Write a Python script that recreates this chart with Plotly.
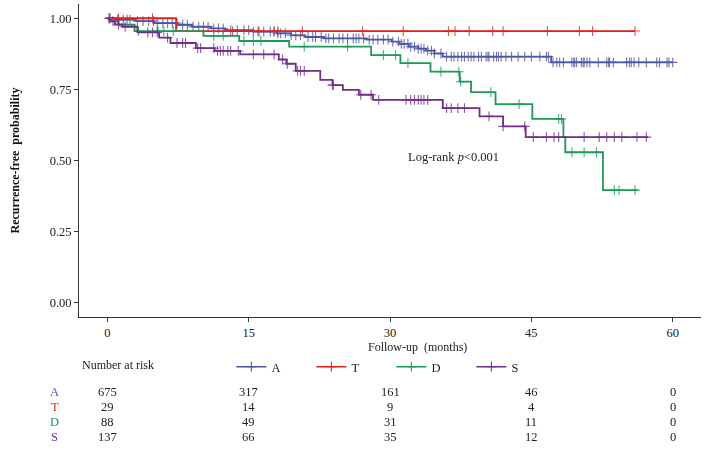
import numpy as np
import plotly.graph_objects as go

# ---------------- data ----------------
groups = ["A", "T", "D", "S"]
colors = {"A": "#4b55a5", "T": "#e3211c", "D": "#1d9a57", "S": "#722d8c"}

# Kaplan-Meier step points (event times, survival after event)
A_time = [0, 1.0, 3.0, 5.0, 7.5, 9.0, 11.0, 12.5, 15.5, 18.0, 19.5, 21.0, 23.0,
          27.5, 30.2, 31.0, 32.0, 33.0, 33.8, 34.7, 35.6, 47.1]
A_surv = [1.0, 0.995, 0.99, 0.983, 0.977, 0.970, 0.964, 0.958, 0.953, 0.947, 0.940,
          0.934, 0.929, 0.925, 0.918, 0.910, 0.900, 0.893, 0.886, 0.876, 0.865, 0.845]
A_end = 60.0

T_time = [0, 7.3]
T_surv = [1.0, 0.955]
T_end = 56.0

D_time = [0, 0.4, 1.2, 2.9, 10.2, 14.0, 19.3, 28.0, 31.1, 34.3, 37.4, 38.6, 41.2,
          45.1, 48.4, 48.6, 52.6]
D_surv = [1.0, 0.989, 0.977, 0.955, 0.938, 0.920, 0.900, 0.870, 0.842, 0.812, 0.777,
          0.740, 0.698, 0.646, 0.583, 0.529, 0.396]
D_end = 56.3

S_time = [0, 0.3, 0.8, 1.6, 3.2, 5.5, 6.7, 9.4, 11.4, 14.1, 18.2, 19.0, 20.0, 22.6,
          23.9, 25.0, 26.7, 28.2, 35.6, 39.5, 42.0, 44.4]
S_surv = [1.0, 0.99, 0.978, 0.97, 0.95, 0.932, 0.913, 0.895, 0.885, 0.873, 0.855,
          0.840, 0.815, 0.783, 0.765, 0.748, 0.731, 0.713, 0.684, 0.655, 0.620, 0.582]
S_end = 57.4

# censoring times
A_cens = [0.2, 0.3, 1.1, 1.7, 2.1, 2.4, 3.2, 3.8, 4.4, 4.9, 5.3, 5.9, 6.4, 6.9, 7.4,
          8.0, 8.5, 9.1, 9.7, 10.2, 10.7, 11.3, 11.8, 12.3, 13.1, 13.8, 14.5, 15.0,
          15.5, 16.1, 16.6, 17.3, 17.7, 18.1, 18.4, 18.9, 19.5, 20.0, 20.5, 21.3,
          21.8, 22.1, 22.7, 23.2, 23.5, 24.0, 24.6, 25.0, 25.5, 26.1, 26.4, 26.7,
          27.2, 27.8, 28.2, 28.7, 29.3, 29.8, 30.3, 30.9, 31.2, 31.5, 31.9, 32.2,
          32.6, 33.0, 33.3, 33.6, 34.0, 34.4, 34.7, 35.4, 36.0, 36.5, 36.8, 37.2,
          37.6, 37.9, 38.3, 38.6, 38.9, 39.4, 39.7, 40.2, 40.4, 40.5, 41.0, 41.3,
          41.5, 41.8, 42.3, 42.9, 43.6, 44.3, 45.0, 45.9, 46.6, 46.8, 47.3, 47.7,
          48.0, 48.4, 49.3, 49.5, 49.6, 49.8, 50.3, 50.5, 50.6, 50.9, 51.2, 52.1,
          53.0, 53.2, 53.3, 53.7, 55.1, 55.4, 55.6, 55.9, 56.4, 57.2, 58.3, 58.6,
          59.4, 59.6, 60.0]
T_cens = [0.2, 1.2, 4.8, 13.3, 16.0, 17.7, 18.1, 20.7, 27.1, 31.4, 36.2, 36.9, 38.4,
          40.9, 42.0, 46.7, 50.1, 51.5, 56.0]
D_cens = [3.3, 5.4, 6.0, 7.0, 11.3, 12.3, 14.5, 15.5, 16.3, 20.9, 25.5, 29.3, 30.6,
          31.9, 35.4, 37.3, 37.5, 40.7, 43.7, 47.9, 48.2, 49.3, 50.6, 51.9, 53.8,
          54.3, 56.0]
S_cens = [0.6, 1.2, 1.9, 4.3, 4.8, 5.3, 6.4, 7.4, 8.0, 8.3, 9.6, 9.9, 11.3, 11.7,
          12.0, 12.3, 12.8, 13.1, 13.9, 15.5, 16.6, 17.7, 18.6, 19.1, 20.2, 20.5,
          20.9, 23.9, 24.0, 26.9, 28.0, 28.8, 31.7, 32.2, 32.6, 33.0, 33.3, 33.6,
          34.0, 36.0, 36.5, 37.2, 37.9, 40.5, 42.0, 44.3, 45.2, 46.6, 47.4, 47.9,
          50.6, 52.2, 53.0, 53.8, 54.6, 56.2, 57.2]

# number at risk
risk_times = [0, 15, 30, 45, 60]
risk_A = [675, 317, 161, 46, 0]
risk_T = [29, 14, 9, 4, 0]
risk_D = [88, 49, 31, 11, 0]
risk_S = [137, 66, 35, 12, 0]

x_ticks = [0, 15, 30, 45, 60]
y_ticks = [0.0, 0.25, 0.50, 0.75, 1.00]
y_ticklabels = ["0.00", "0.25", "0.50", "0.75", "1.00"]

curves = {
    "A": (A_time, A_surv, A_end, A_cens, risk_A),
    "T": (T_time, T_surv, T_end, T_cens, risk_T),
    "D": (D_time, D_surv, D_end, D_cens, risk_D),
    "S": (S_time, S_surv, S_end, S_cens, risk_S),
}

FONT = "Liberation Serif"

# ---------------- figure ----------------
fig = go.Figure()

for g in groups:
    t, s, end, cens, _ = curves[g]
    c = colors[g]
    xs = list(t) + [end]
    ys = list(s) + [s[-1]]
    fig.add_trace(go.Scatter(x=xs, y=ys, mode="lines", line=dict(color=c, width=1.8, shape="hv"),
                             showlegend=False, hoverinfo="skip"))
    tt = np.array(t)
    ss = np.array(s)
    idx = np.searchsorted(tt, np.array(cens), side="right") - 1
    cy = ss[idx]
    fig.add_trace(go.Scatter(x=cens, y=cy, mode="markers",
                             marker=dict(symbol="cross-thin", size=7, color=c,
                                         line=dict(color=c, width=1.1)),
                             opacity=0.8, showlegend=False, hoverinfo="skip"))
    # legend proxy
    fig.add_trace(go.Scatter(x=[None], y=[None], mode="lines+markers", name=g,
                             line=dict(color=c, width=1.5),
                             marker=dict(symbol="cross-thin", size=7, color=c,
                                         line=dict(color=c, width=1.1)),
                             showlegend=True))

annotations = []
# Log-rank text
annotations.append(dict(x=36.7, y=0.514, xref="x", yref="y", showarrow=False,
                        xanchor="center", yanchor="middle",
                        text="Log-rank <i>p</i>&lt;0.001",
                        font=dict(family=FONT, size=12.5, color="#222")))
# y-axis title
annotations.append(dict(x=-0.1045, y=0.5, xref="paper", yref="paper", showarrow=False,
                        xanchor="center", yanchor="middle",
                        text="<b>Recurrence-free  probability</b>", textangle=-90,
                        font=dict(family=FONT, size=12, color="#111")))
# x-axis title
annotations.append(dict(x=0.545, y=-0.096, xref="paper", yref="paper", showarrow=False,
                        xanchor="center", yanchor="middle",
                        text="Follow-up  (months)",
                        font=dict(family=FONT, size=12, color="#222")))
# Number at risk header
annotations.append(dict(x=0.002, y=-0.153, xref="paper", yref="paper", showarrow=False,
                        xanchor="left", yanchor="middle", text="Number at risk",
                        font=dict(family=FONT, size=12, color="#222")))
# risk table
row_y = {"A": -0.2396, "T": -0.2875, "D": -0.3355, "S": -0.3834}
for g in groups:
    annotations.append(dict(x=-0.0386, y=row_y[g], xref="paper", yref="paper",
                            showarrow=False, text=g, xanchor="center", yanchor="middle",
                            font=dict(family=FONT, size=12.5, color=colors[g])))
    for tx, n in zip(risk_times, curves[g][4]):
        annotations.append(dict(x=tx, y=row_y[g], xref="x", yref="paper",
                                showarrow=False, text=str(n),
                                xanchor="center", yanchor="middle",
                                font=dict(family=FONT, size=12.5, color="#222")))

fig.update_layout(
    width=708, height=453,
    margin=dict(l=79, r=7, t=4, b=136, autoexpand=False),
    paper_bgcolor="white", plot_bgcolor="white",
    font=dict(family=FONT, size=12.5, color="#222"),
    annotations=annotations,
    legend=dict(orientation="h", x=0.245, y=-0.16, xanchor="left", yanchor="middle",
                entrywidth=35, entrywidthmode="pixels", itemwidth=30,
                font=dict(family=FONT, size=12.5, color="#222"),
                bgcolor="rgba(0,0,0,0)", tracegroupgap=0),
    xaxis=dict(range=[-3, 63], tickvals=x_ticks, ticktext=[str(v) for v in x_ticks],
               showgrid=False, zeroline=False, showline=True, linecolor="#333", linewidth=1,
               ticks="outside", ticklen=4, tickcolor="#333",
               tickfont=dict(family=FONT, size=12.5, color="#222")),
    yaxis=dict(range=[-0.05, 1.05], tickvals=y_ticks, ticktext=y_ticklabels,
               showgrid=False, zeroline=False, showline=True, linecolor="#333", linewidth=1,
               ticks="outside", ticklen=4, tickcolor="#333",
               tickfont=dict(family=FONT, size=12.5, color="#222")),
)

fig.write_html("out.html", config={"displayModeBar": False},
               post_script="document.body.style.margin='0px';document.body.style.overflow='hidden';")
